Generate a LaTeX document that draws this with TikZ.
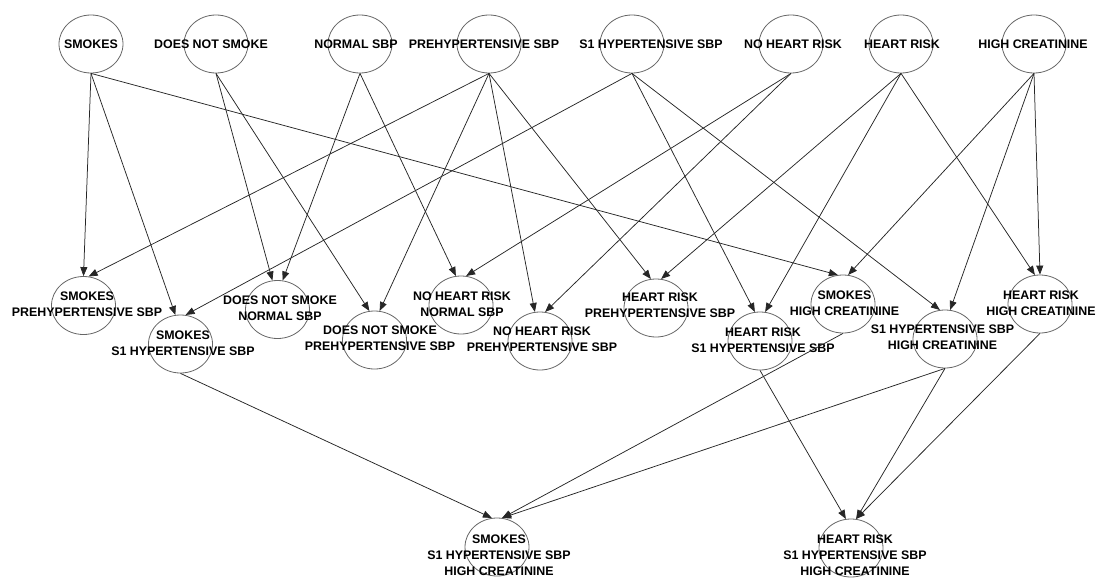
\documentclass[tikz,border=0pt]{standalone}
\usepackage{fontspec}
\setmainfont{Liberation Sans}
\usetikzlibrary{arrows.meta,shapes.geometric}

\begin{document}
\begin{tikzpicture}[x=1pt,y=-1pt,
   st/.style={draw=black!60,line width=0.8pt,ellipse,minimum width=64pt,
              minimum height=58pt,inner sep=0pt},
   txt/.style={align=center,inner sep=0pt,
               font=\fontsize{12.4}{16.2}\selectfont\bfseries},
   edge/.style={-{Triangle[length=9pt,width=7pt]},line width=0.75pt,black!85}]
  \useasboundingbox (0,0) rectangle (1100,578);
  % single conditions
  \node[st] (smokes)  at (91,44)   {};
  \node[st] (nosmoke) at (216,44)  {};
  \node[st] (normal)  at (360,44)  {};
  \node[st] (prehyp)  at (489,44)  {};
  \node[st] (sone)    at (632,44)  {};
  \node[st] (noheart) at (791,44)  {};
  \node[st] (heart)   at (901,44)  {};
  \node[st] (creat)   at (1034,44) {};
  \node[txt] (smokes-t)  at (91,44)   {SMOKES};
  \node[txt] (nosmoke-t) at (211,44)  {DOES NOT SMOKE};
  \node[txt] (normal-t)  at (356,44)  {NORMAL SBP};
  \node[txt] (prehyp-t)  at (484,44)  {PREHYPERTENSIVE SBP};
  \node[txt] (sone-t)    at (651,44)  {S1 HYPERTENSIVE SBP};
  \node[txt] (noheart-t) at (793,44)  {NO HEART RISK};
  \node[txt] (heart-t)   at (902,44)  {HEART RISK};
  \node[txt] (creat-t)   at (1033,44) {HIGH CREATININE};
  % pairs
  \node[st] (smokes-prehyp)  at (83.5,305.5) {};
  \node[st] (smokes-sone)    at (180.5,344)  {};
  \node[st] (nosmoke-normal) at (277.5,309.5) {};
  \node[st] (nosmoke-prehyp) at (374.5,340)  {};
  \node[st] (noheart-normal) at (461,305)    {};
  \node[st] (noheart-prehyp) at (540,341)    {};
  \node[st] (heart-prehyp)   at (656,308)    {};
  \node[st] (heart-sone)     at (760,341)    {};
  \node[st] (smokes-creat)   at (843,304)    {};
  \node[st] (sone-creat)     at (945,339)    {};
  \node[st] (heart-creat)    at (1040,304)   {};
  \node[txt] (smokes-prehyp-t)  at (87,304)     {SMOKES\\PREHYPERTENSIVE SBP};
  \node[txt] (smokes-sone-t)    at (183,343)    {SMOKES\\S1 HYPERTENSIVE SBP};
  \node[txt] (nosmoke-normal-t) at (280,308)    {DOES NOT SMOKE\\NORMAL SBP};
  \node[txt] (nosmoke-prehyp-t) at (380,338.5)  {DOES NOT SMOKE\\PREHYPERTENSIVE SBP};
  \node[txt] (noheart-normal-t) at (462,304.5)  {NO HEART RISK\\NORMAL SBP};
  \node[txt] (noheart-prehyp-t) at (542,339.5)  {NO HEART RISK\\PREHYPERTENSIVE SBP};
  \node[txt] (heart-prehyp-t)   at (660,305.5)  {HEART RISK\\PREHYPERTENSIVE SBP};
  \node[txt] (heart-sone-t)     at (763,340)    {HEART RISK\\S1 HYPERTENSIVE SBP};
  \node[txt] (smokes-creat-t)   at (844.5,303.5) {SMOKES\\HIGH CREATININE};
  \node[txt] (sone-creat-t)     at (942.5,337.5) {S1 HYPERTENSIVE SBP\\HIGH CREATININE};
  \node[txt] (heart-creat-t)    at (1041,303.5) {HEART RISK\\HIGH CREATININE};
  % triples
  \node[st] (smokes-sone-creat) at (497,547) {};
  \node[st] (heart-sone-creat)  at (851,548) {};
  \node[txt] (smokes-sone-creat-t) at (499,555.5) {SMOKES\\S1 HYPERTENSIVE SBP\\HIGH CREATININE};
  \node[txt] (heart-sone-creat-t)  at (855,555.5) {HEART RISK\\S1 HYPERTENSIVE SBP\\HIGH CREATININE};
  % edges
  \foreach \s/\t in {smokes/smokes-prehyp.90, prehyp/smokes-prehyp.80,
      smokes/smokes-sone.100, sone/smokes-sone.80,
      nosmoke/nosmoke-normal.100, normal/nosmoke-normal.80,
      nosmoke/nosmoke-prehyp.100, prehyp/nosmoke-prehyp.80,
      normal/noheart-normal.100, noheart/noheart-normal.80,
      prehyp/noheart-prehyp.100, noheart/noheart-prehyp.80,
      prehyp/heart-prehyp.100, heart/heart-prehyp.80,
      sone/heart-sone.100, heart/heart-sone.80,
      smokes/smokes-creat.100, creat/smokes-creat.80,
      sone/sone-creat.100, creat/sone-creat.80,
      heart/heart-creat.100, creat/heart-creat.90,
      smokes-sone/smokes-sone-creat.100, smokes-creat/smokes-sone-creat.80,
      sone-creat/smokes-sone-creat.80,
      heart-sone/heart-sone-creat.100, sone-creat/heart-sone-creat.80,
      heart-creat/heart-sone-creat.80}
    \draw[edge] (\s.south) -- (\t);
\end{tikzpicture}
\end{document}
